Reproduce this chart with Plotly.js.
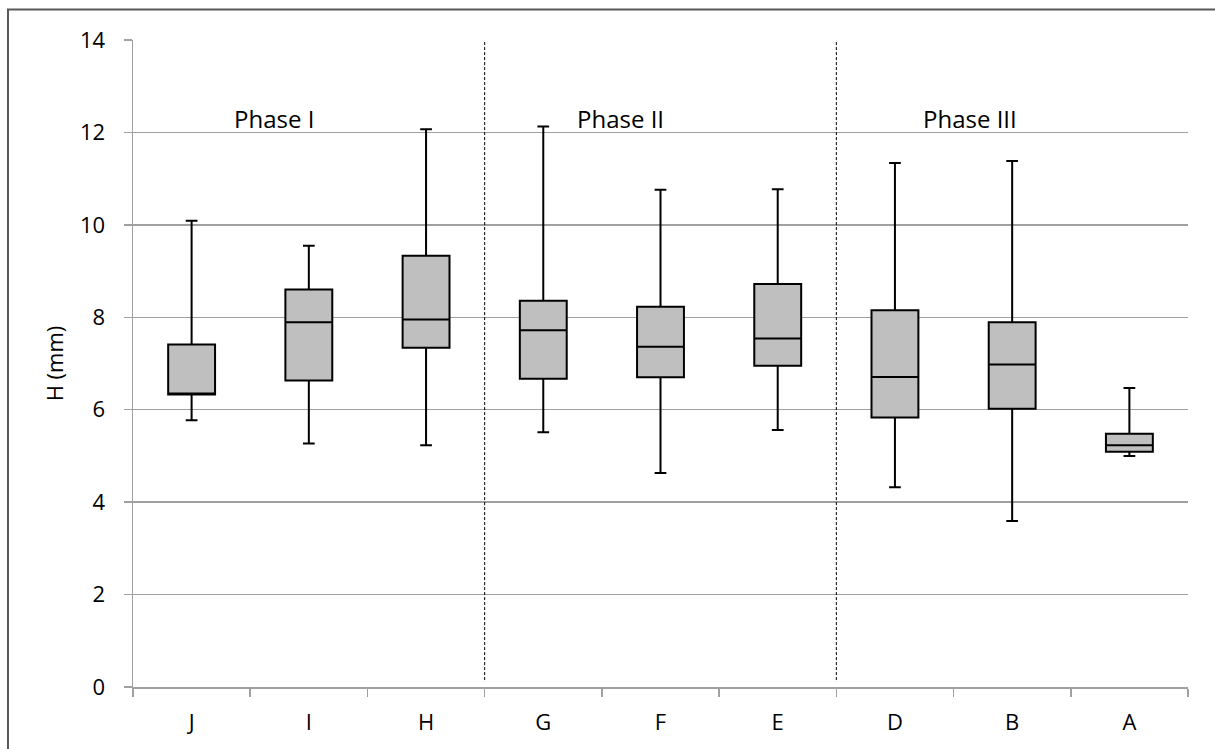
<!DOCTYPE html>
<html>
<head>
<meta charset="utf-8">
<script src="https://cdn.plot.ly/plotly-3.0.1.min.js"></script>
<style>
  html, body { margin: 0; padding: 0; background: #fff; }
  #chart { width: 1215px; height: 749px; }
</style>
</head>
<body>
<div id="chart"></div>
<script>
// Data
const categories = ["J", "I", "H", "G", "F", "E", "D", "B", "A"];
const lowerWhisker = [5.77, 5.27, 5.23, 5.51, 4.63, 5.56, 4.32, 3.59, 5.00];
const q1Values     = [6.33, 6.63, 7.34, 6.67, 6.70, 6.95, 5.83, 6.02, 5.09];
const medianValues = [6.35, 7.89, 7.95, 7.72, 7.36, 7.54, 6.71, 6.98, 5.23];
const q3Values     = [7.41, 8.60, 9.33, 8.36, 8.23, 8.72, 8.15, 7.89, 5.48];
const upperWhisker = [10.09, 9.55, 12.07, 12.13, 10.76, 10.77, 11.34, 11.38, 6.47];
const phaseLabels = ["Phase I", "Phase II", "Phase III"];
const phasePositions = [0.70, 3.66, 6.64];
const phaseLabelY = 12.3;
const phaseDividers = [2.5, 5.5];
const yTicks = [0, 2, 4, 6, 8, 10, 12, 14];

const FONT = "Open Sans, Noto Sans, sans-serif";

const trace = {
  type: "box",
  x: categories,
  q1: q1Values,
  median: medianValues,
  q3: q3Values,
  lowerfence: lowerWhisker,
  upperfence: upperWhisker,
  fillcolor: "#bfbfbf",
  line: { color: "#000000", width: 2 },
  whiskerwidth: 0.25,
  boxpoints: false,
  hoverinfo: "skip",
  showlegend: false
};

const shapes = phaseDividers.map(p => ({
  type: "line", xref: "x", yref: "y",
  x0: p, x1: p, y0: 0.15, y1: 14,
  line: { color: "#000000", width: 1, dash: "3px,2px" }
}));
// outer chart frame
shapes.push({
  type: "rect", xref: "paper", yref: "paper",
  x0: -0.1185, x1: 1.03, y0: -0.25, y1: 1.047,
  line: { color: "#595959", width: 2 }, fillcolor: "rgba(0,0,0,0)"
});

const annotations = phaseLabels.map((t, i) => ({
  text: t, x: phasePositions[i], y: phaseLabelY, xref: "x", yref: "y",
  showarrow: false, xanchor: "center", yanchor: "middle",
  font: { family: FONT, size: 24, color: "#000000" }
}));

const layout = {
  width: 1215, height: 749,
  margin: { l: 133, r: 27, t: 40, b: 62 },
  paper_bgcolor: "#ffffff", plot_bgcolor: "#ffffff",
  boxgap: 0.6,
  boxgroupgap: 0,
  showlegend: false,
  font: { family: FONT, size: 22, color: "#000000" },
  xaxis: {
    type: "category",
    categoryorder: "array", categoryarray: categories,
    range: [-0.5, 8.5],
    showgrid: false, zeroline: false,
    showline: true, linecolor: "#a0a0a0", linewidth: 1.5,
    ticks: "outside", tickson: "boundaries", ticklen: 8, tickcolor: "#a0a0a0", tickwidth: 1.5,
    ticklabelstandoff: 15,
    tickfont: { family: FONT, size: 22, color: "#000000" }
  },
  yaxis: {
    range: [0, 14], tickvals: yTicks,
    showgrid: true, gridcolor: "#a0a0a0", gridwidth: 1.5,
    zeroline: false,
    showline: true, linecolor: "#a0a0a0", linewidth: 1.5,
    ticks: "outside", ticklen: 8, tickcolor: "#a0a0a0", tickwidth: 1.5,
    ticklabelstandoff: 14,
    tickfont: { family: FONT, size: 22, color: "#000000" },
    title: { text: "H (mm)", standoff: 10, font: { family: FONT, size: 22, color: "#000000" } }
  },
  shapes: shapes,
  annotations: annotations
};

Plotly.newPlot("chart", [trace], layout, { staticPlot: true, displayModeBar: false });
</script>
</body>
</html>
